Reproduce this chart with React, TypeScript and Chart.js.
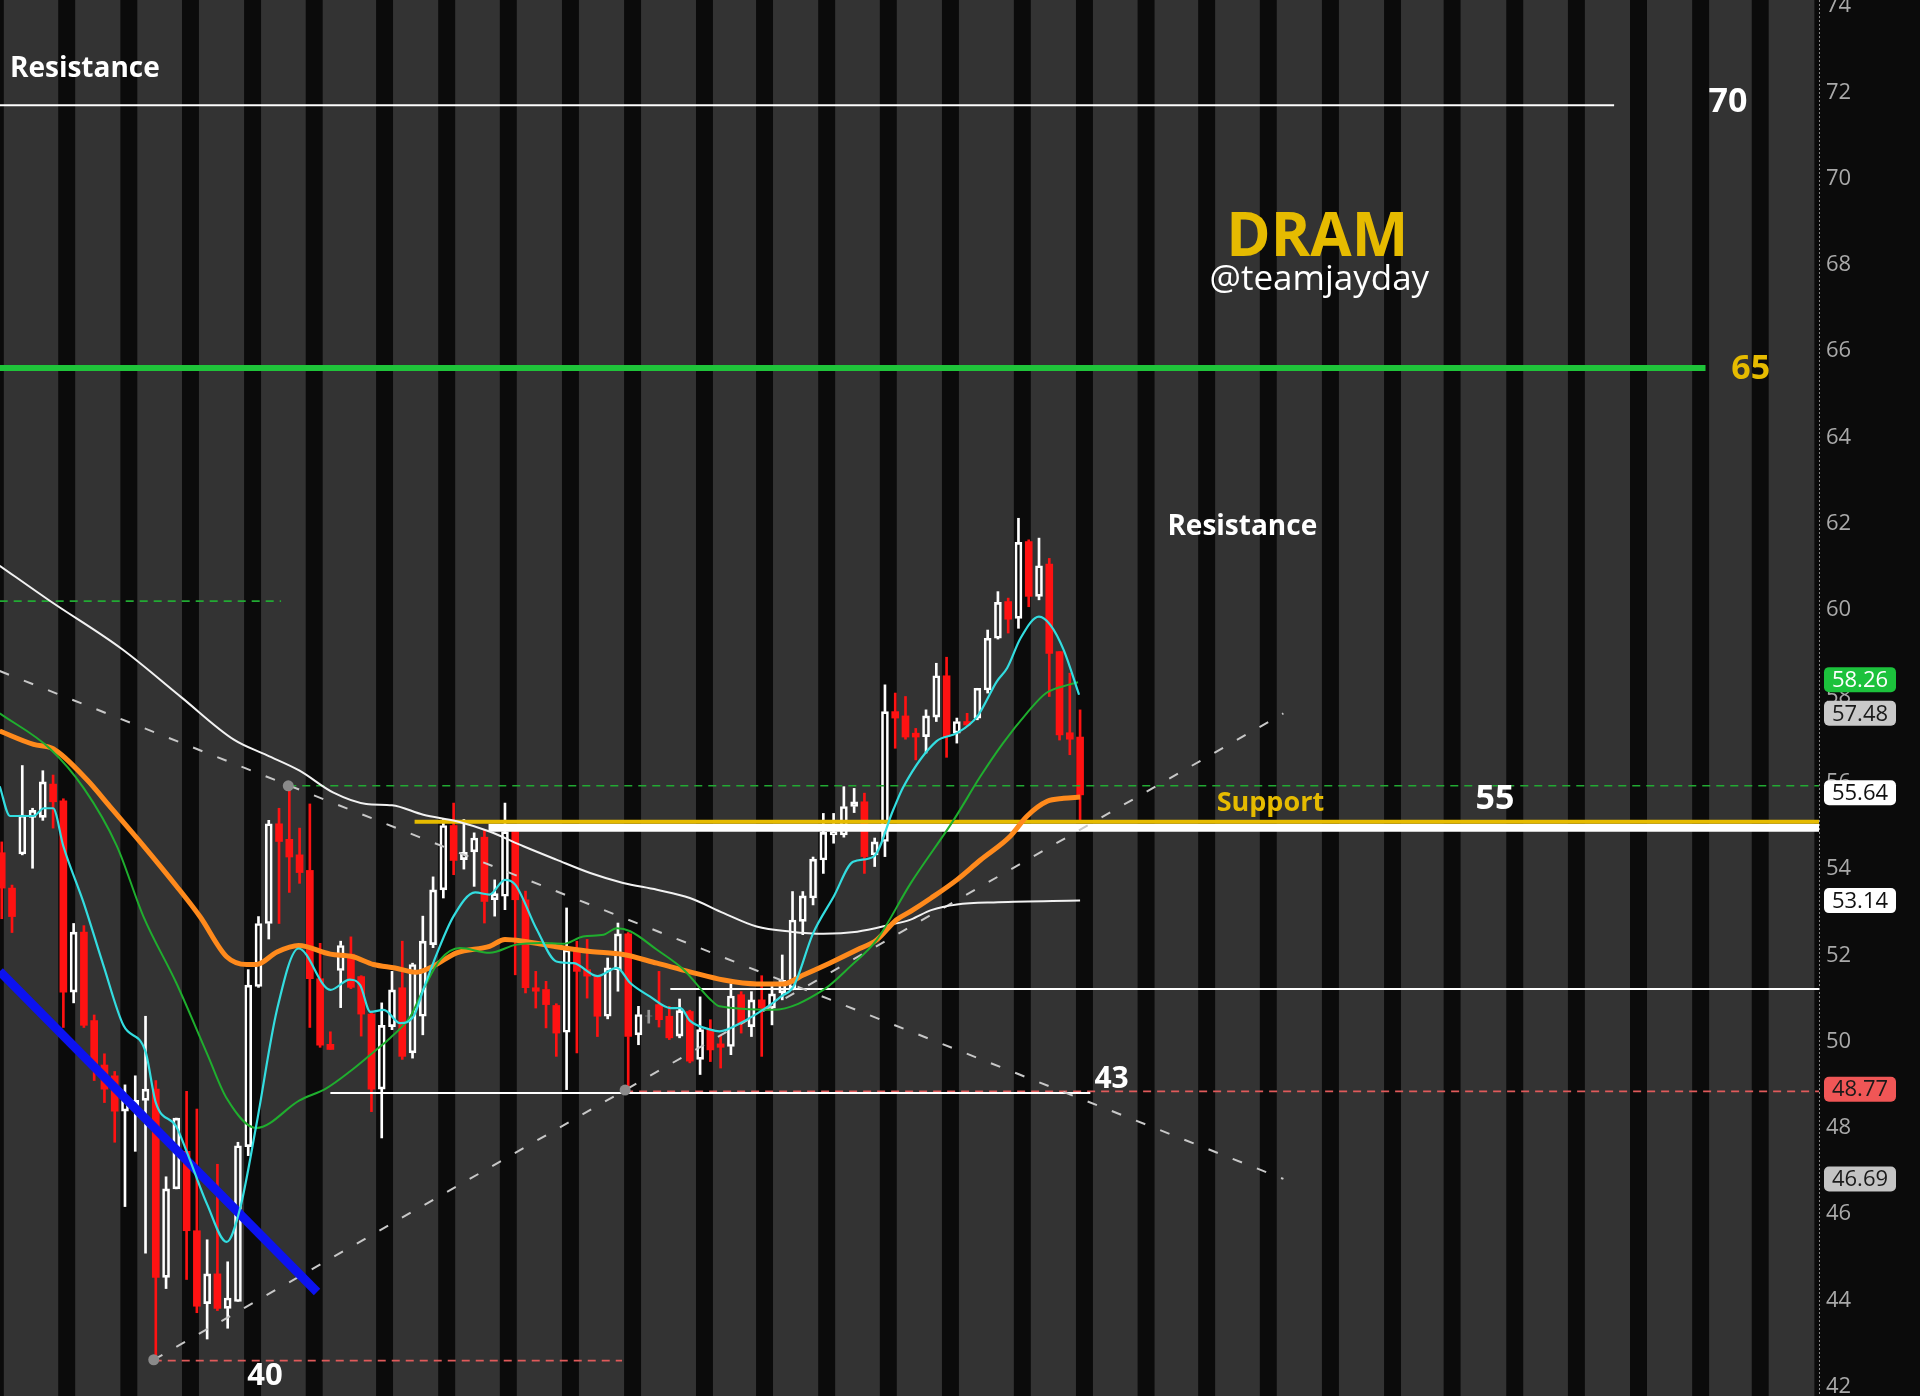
import React, { useEffect, useRef } from "react";
import { Chart, registerables } from "chart.js";

Chart.register(...registerables);

const W = 1920;
const H = 1396;

// ---- candle data (index = bar number) ----
const opens = [
  54.25, 53.43, 54.22, 55.07, 55.07, 55.84, 55.45, 51.02, 52.41, 50.36,
  49.33, 49.08, 48.26, 48.38, 48.51, 48.77, 44.41, 46.46, 47.33, 45.49,
  43.8, 44.49, 43.69, 43.85, 47.44, 51.15, 52.61, 54.92, 54.56, 54.2,
  53.84, 51.33, 49.81, 51.52, 51.9, 51.38, 50.51, 48.77, 50.22, 51.12,
  49.61, 50.46, 52.12, 53.39, 54.88, 54.09, 54.27, 54.61, 53.16, 53.24,
  54.74, 53.16, 51.12, 51.08, 50.71, 50.09, 52.02, 51.54, 51.39, 50.46,
  51.54, 52.37, 50.03, 50.46, 50.73, 50.46, 50.0, 50.57, 49.46, 50.15,
  49.82, 49.76, 50.96, 50.22, 50.84, 50.65, 51.0, 51.11, 52.66, 53.2,
  54.08, 54.66, 54.66, 55.32, 55.43, 54.2, 54.51, 57.52, 57.42, 57.02,
  56.94, 57.39, 58.35, 57.02, 57.29, 57.37, 58.02, 59.22, 60.07, 59.68,
  61.46, 60.19, 60.94, 58.91, 57.03, 56.93,
];
const highs = [
  54.5, 53.5, 56.27, 55.28, 56.15, 56.05, 55.5, 52.61, 52.56, 50.49,
  49.59, 49.18, 48.87, 49.08, 50.46, 48.97, 46.74, 48.1, 48.72, 48.31,
  45.28, 47.03, 44.77, 47.54, 51.54, 52.77, 55.0, 55.28, 55.79, 54.82,
  55.38, 52.15, 50.1, 52.2, 52.3, 51.4, 50.56, 50.77, 51.5, 52.2,
  51.69, 52.78, 53.69, 55.02, 55.4, 55.02, 54.71, 54.78, 53.62, 55.4,
  54.85, 53.36, 51.5, 51.27, 50.75, 52.97, 52.2, 52.24, 51.4, 51.81,
  52.62, 52.4, 50.69, 50.6, 51.5, 50.69, 50.86, 50.6, 50.91, 50.38,
  50.03, 51.21, 51.03, 51.03, 51.4, 51.15, 51.88, 53.35, 53.35, 54.15,
  55.16, 55.16, 55.78, 55.74, 55.63, 54.59, 58.14, 57.95, 57.87, 57.13,
  57.56, 58.64, 58.78, 57.37, 57.48, 58.06, 59.41, 60.3, 60.15, 62.0,
  61.5, 61.54, 61.07, 58.91, 58.41, 57.56,
];
const lows = [
  52.72, 52.4, 54.2, 53.89, 55.0, 54.82, 50.2, 50.77, 50.2, 48.97,
  48.46, 47.54, 46.05, 47.33, 44.97, 42.5, 44.15, 46.46, 44.36, 43.59,
  42.98, 43.64, 43.23, 43.85, 47.23, 51.13, 52.25, 52.61, 53.33, 53.54,
  50.2, 49.74, 49.69, 50.66, 51.1, 50.0, 48.25, 47.64, 50.15, 49.46,
  49.49, 50.03, 52.05, 53.2, 53.74, 53.87, 53.47, 52.62, 52.78, 52.93,
  51.42, 51.0, 50.65, 50.19, 49.53, 48.76, 49.61, 50.88, 49.99, 50.4,
  51.04, 48.77, 49.8, 50.3, 50.21, 49.92, 49.96, 49.38, 49.11, 49.41,
  49.26, 49.57, 50.07, 49.99, 49.53, 50.26, 50.84, 51.07, 52.35, 53.04,
  53.77, 54.47, 54.61, 55.18, 53.77, 53.93, 54.16, 56.67, 56.88, 56.4,
  56.56, 57.29, 56.46, 56.79, 57.19, 57.33, 57.95, 59.2, 59.34, 59.45,
  59.95, 60.11, 57.87, 56.86, 56.52, 55.0,
];
const closes = [
  53.43, 52.77, 55.12, 55.23, 55.89, 55.43, 51.02, 52.41, 50.25, 49.28,
  48.77, 48.26, 48.51, 48.51, 48.77, 44.41, 46.46, 48.1, 45.49, 43.74,
  44.49, 43.69, 43.93, 47.46, 51.18, 52.61, 54.92, 54.51, 54.15, 53.79,
  51.33, 49.79, 49.69, 52.1, 51.13, 50.51, 48.77, 50.25, 51.07, 49.53,
  51.66, 52.2, 53.39, 54.88, 54.07, 54.26, 54.59, 53.12, 53.3, 54.74,
  53.16, 51.12, 51.04, 50.73, 50.07, 52.0, 51.5, 51.39, 50.46, 51.58,
  52.37, 49.99, 50.5, 50.47, 50.38, 49.96, 50.59, 49.42, 50.15, 49.68,
  49.74, 50.93, 50.3, 50.84, 50.65, 50.98, 51.29, 52.69, 53.25, 54.1,
  54.72, 54.74, 55.32, 55.43, 54.16, 54.5, 57.52, 57.37, 56.93, 56.93,
  57.42, 58.35, 56.94, 57.29, 57.21, 58.06, 59.22, 60.05, 59.66, 61.44,
  60.19, 60.9, 58.87, 56.98, 56.88, 55.59,
];

// ---- moving averages: [bar index, price] ----
const fastAvg: [number, number][] = [
  [-0.2, 55.79], [0.8, 55.1], [3.1, 55.1], [4.1, 55.28], [5, 55.28], [6, 54.4],
  [8, 53.07], [9.9, 51.64], [11.85, 50.25], [14, 49.64], [15, 48.46], [17, 47.9],
  [18, 47.33], [20, 46.1], [21.9, 45.23], [23.2, 46.0], [24.8, 47.95], [26.8, 50.61],
  [28.9, 52.03], [32, 51.07], [33.9, 51.31], [34.9, 51.18], [35.9, 50.56], [37.2, 50.61],
  [38.8, 50.3], [40.1, 50.46], [41.05, 51.08], [42.4, 51.93], [44, 52.78], [46.1, 53.33],
  [47.5, 53.28], [49, 53.62], [50, 53.51], [52.1, 52.47], [54, 51.73], [55.7, 51.69],
  [58, 51.39], [59.9, 51.58], [61.2, 51.23], [63.1, 50.92], [65.1, 50.65], [66.1, 50.65],
  [67, 50.36], [69, 50.15], [69.9, 50.11], [71.9, 50.3], [74.8, 50.72], [75.9, 50.92],
  [77.1, 51.15], [79, 52.38], [81, 53.23], [82.9, 54.04], [84.9, 54.16], [86.8, 55.24],
  [87.8, 55.78], [91, 56.83], [93, 57.02], [95, 57.41], [96.9, 58.22], [97.9, 58.53],
  [99.2, 59.22], [101, 59.72], [102.1, 59.53], [103.4, 58.95], [104.9, 57.91],
];
const midAvg: [number, number][] = [
  [-0.2, 57.48], [4.7, 56.66], [8, 55.74], [11.2, 54.41], [13.8, 52.77], [17, 51.23],
  [20, 49.59], [21.9, 48.56], [24.8, 47.87], [29, 48.51], [31.6, 48.79], [33.9, 49.18],
  [36.5, 49.69], [37.8, 49.95], [39.8, 50.46], [41.05, 51.08], [42.7, 51.77], [44.6, 52.04],
  [47.5, 51.93], [50.1, 52.12], [52.4, 52.16], [54.7, 52.14], [56.6, 52.31], [58.6, 52.35],
  [59.9, 52.5], [61.2, 52.43], [63.8, 52.0], [66.4, 51.54], [69, 50.85], [69.9, 50.69],
  [75.1, 50.61], [80, 51.07], [82.6, 51.61], [85.2, 52.23], [88.5, 53.54], [92.7, 55.01],
  [95.3, 56.02], [97.5, 56.79], [99.8, 57.48], [101.7, 57.95], [104, 58.15], [104.8, 58.2],
];
const slowAvg: [number, number][] = [
  [-0.2, 57.07], [3.1, 56.76], [5, 56.66], [8.3, 55.94], [10.5, 55.33], [13.8, 54.41],
  [17, 53.48], [19.3, 52.77], [21.9, 51.84], [23.85, 51.66], [24.8, 51.66], [26.8, 51.95],
  [28.9, 52.1], [32, 51.9], [34.2, 51.84], [36.2, 51.66], [38.3, 51.58], [40.4, 51.48],
  [42, 51.62], [44.3, 51.93], [47.5, 52.08], [49, 52.24], [50.8, 52.2], [54, 52.07],
  [57.3, 51.96], [60.5, 51.89], [63.8, 51.69], [67, 51.49], [70.3, 51.3], [73.5, 51.21],
  [76.1, 51.21], [78.1, 51.42], [80.6, 51.69], [83.3, 52.0], [85.2, 52.23], [87.1, 52.69],
  [88.5, 52.89], [90.5, 53.2], [93, 53.62], [95.3, 54.08], [98.2, 54.63], [99.8, 55.09],
  [101.8, 55.44], [103.4, 55.51], [105, 55.54],
];
const longAvg: [number, number][] = [
  [-0.2, 60.9], [4.6, 60.1], [11.7, 58.97], [17.5, 57.85], [22.6, 56.87], [25.8, 56.51],
  [29, 56.15], [32.3, 55.64], [35.5, 55.38], [38, 55.35], [41.05, 55.13], [44.3, 54.98],
  [47.5, 54.74], [50.8, 54.4], [54, 54.09], [57.3, 53.78], [60.5, 53.55], [63.8, 53.39],
  [67, 53.2], [70.3, 52.85], [73.5, 52.54], [76.8, 52.42], [80, 52.37], [83.3, 52.42],
  [86.5, 52.58], [88.5, 52.7], [90.5, 52.92], [93, 53.05], [97, 53.1], [105, 53.14],
];

// ---- drawn study lines: [bar index, price] ----
const X_MIN = -0.17;
const X_MAX = 176.95;
const Y_MIN = 41.66;
const Y_MAX = 74.01;

const blueTrend: [number, number][] = [[-0.2, 51.5], [30.7, 44.07]];
const fallingDash: [number, number][] = [[-0.2, 58.46], [124.8, 46.69]];
const risingDash: [number, number][] = [[14.8, 42.5], [124.8, 57.48]];
const topResistance: [number, number][] = [[-0.2, 71.57], [157, 71.57]];
const greenLevel: [number, number][] = [[-0.2, 65.48], [165.9, 65.48]];
const greenDashShort: [number, number][] = [[-0.2, 60.08], [27.2, 60.08]];
const greenDashLong: [number, number][] = [[27.9, 55.8], [X_MAX, 55.8]];
const yellowSupport: [number, number][] = [[40.2, 54.97], [X_MAX, 54.97]];
const whiteSupport: [number, number][] = [[47.4, 54.83], [X_MAX, 54.83]];
const whiteMid: [number, number][] = [[65.1, 51.09], [X_MAX, 51.09]];
const whiteLow: [number, number][] = [[32, 48.68], [106, 48.68]];
const redDashUpper: [number, number][] = [[60.7, 48.72], [X_MAX, 48.72]];
const redDashLower: [number, number][] = [[14.8, 42.48], [60.4, 42.48]];
const pivotDots: [number, number][] = [[14.8, 42.5], [60.7, 48.75], [27.9, 55.8]];

// ---- background session stripes (start bar index) ----
const stripeStarts = [
  -1.45, 5.5, 11.55, 17.55, 23.6, 29.6, 36.45, 42.5, 48.5, 54.55, 60.6, 67.6,
  73.45, 79.5, 85.5, 91.55, 98.55, 104.6, 110.6, 116.5, 122.5, 128.55, 134.6,
  140.4, 146.5, 152.5, 158.55, 164.6, 170.4, 176.5,
];
const STRIPE_W = 1.65;

// ---- axis ticks and price tags ----
const yTicks = [42, 44, 46, 48, 50, 52, 54, 56, 58, 60, 62, 64, 66, 68, 70, 72, 74];
const tagValues = [58.26, 57.48, 55.64, 53.14, 48.77, 46.69];
const tagFill = ["#1cc23c", "#c9c9c9", "#ffffff", "#ffffff", "#f05656", "#c4c4c4"];
const tagInk = ["#ffffff", "#1a1a1a", "#111111", "#111111", "#1a1a1a", "#1a1a1a"];

// ---- chart notes: [text, bar index, price] ----
const noteTexts = ["Resistance", "70", "DRAM", "@teamjayday", "65", "Resistance", "Support", "55", "43", "40"];
const noteX = [0.8, 166.2, 128.1, 128.3, 170.3, 113.5, 118.3, 143.5, 106.4, 23.9];
const noteY = [72.23, 71.41, 68.08, 67.29, 65.23, 61.61, 55.22, 55.27, 48.8, 41.92];
const noteStyle = [
  { size: 28, weight: "bold", color: "#ffffff", align: "left" },
  { size: 34, weight: "bold", color: "#ffffff", align: "left" },
  { size: 60, weight: "bold", color: "#e6bb00", align: "center" },
  { size: 35, weight: "normal", color: "#ffffff", align: "center" },
  { size: 34, weight: "bold", color: "#e6bb00", align: "center" },
  { size: 28, weight: "bold", color: "#ffffff", align: "left" },
  { size: 27, weight: "bold", color: "#e6bb00", align: "left" },
  { size: 34, weight: "bold", color: "#ffffff", align: "left" },
  { size: 30, weight: "bold", color: "#ffffff", align: "left" },
  { size: 31, weight: "bold", color: "#ffffff", align: "left" },
];

const FONT = '"Open Sans", "Noto Sans", sans-serif';

const RED = "#ff1212";
const kind = (i: number) => {
  const d = closes[i] - opens[i];
  if (Math.abs(d) <= 0.03) return "doji";
  return d > 0 ? "up" : "down";
};
const wickColor = (i: number) => (kind(i) === "down" ? RED : kind(i) === "doji" ? "#9a9a9a" : "#ffffff");

const bgPlugin = {
  id: "bgStripes",
  beforeDraw(chart: any) {
    const { ctx, chartArea: a } = chart;
    const x = chart.scales.x;
    ctx.save();
    ctx.fillStyle = "#0b0b0b";
    ctx.fillRect(0, 0, chart.width, chart.height);
    ctx.fillStyle = "#333333";
    ctx.fillRect(a.left, a.top, a.right - a.left, a.bottom - a.top);
    ctx.beginPath();
    ctx.rect(a.left, a.top, a.right - a.left, a.bottom - a.top);
    ctx.clip();
    ctx.fillStyle = "#0b0b0b";
    for (const s of stripeStarts) {
      const x0 = x.getPixelForValue(s);
      const x1 = x.getPixelForValue(s + STRIPE_W);
      ctx.fillRect(x0, a.top, x1 - x0, a.bottom - a.top);
    }
    ctx.restore();
  },
};

const overlayPlugin = {
  id: "overlay",
  afterDraw(chart: any) {
    const { ctx, chartArea: a } = chart;
    const xs = chart.scales.x;
    const ys = chart.scales.y;
    ctx.save();
    // dotted axis separator
    ctx.strokeStyle = "#8a8a8a";
    ctx.lineWidth = 1;
    ctx.setLineDash([2, 2]);
    ctx.beginPath();
    ctx.moveTo(a.right + 0.5, 0);
    ctx.lineTo(a.right + 0.5, chart.height);
    ctx.stroke();
    ctx.setLineDash([]);

    // notes
    ctx.textBaseline = "alphabetic";
    noteTexts.forEach((t, i) => {
      const st = noteStyle[i];
      ctx.font = `${st.weight} ${st.size}px ${FONT}`;
      ctx.fillStyle = st.color;
      ctx.textAlign = st.align as CanvasTextAlign;
      ctx.fillText(t, xs.getPixelForValue(noteX[i]), ys.getPixelForValue(noteY[i]));
    });

    // price tags
    ctx.font = `22px ${FONT}`;
    ctx.textAlign = "center";
    ctx.textBaseline = "middle";
    tagValues.forEach((v, i) => {
      const y = ys.getPixelForValue(v);
      const left = a.right + 5;
      const w = 72;
      const h = 25;
      ctx.fillStyle = tagFill[i];
      ctx.beginPath();
      (ctx as any).roundRect(left, y - h / 2, w, h, 5);
      ctx.fill();
      ctx.fillStyle = tagInk[i];
      ctx.fillText(v.toFixed(2), left + w / 2, y + 1);
    });
    ctx.restore();
  },
};

const pts = (p: [number, number][]) => p.map(([x, y]) => ({ x, y }));

const lineDs = (p: [number, number][], color: string, width: number, extra: any = {}) => ({
  type: "line",
  data: pts(p),
  borderColor: color,
  borderWidth: width,
  pointRadius: 0,
  fill: false,
  tension: 0,
  order: 3,
  ...extra,
});

export default function App() {
  const ref = useRef<HTMLCanvasElement | null>(null);

  useEffect(() => {
    if (!ref.current) return;
    Chart.defaults.font.family = FONT;
    const idx = opens.map((_, i) => i);

    const wickUp = {
      type: "bar",
      data: idx.map((i) => ({ x: i, y: [Math.max(opens[i], closes[i]), highs[i]] })),
      backgroundColor: idx.map(wickColor),
      borderWidth: 0,
      barThickness: 2,
      grouped: false,
      order: 10,
    };
    const wickDown = {
      type: "bar",
      data: idx.map((i) => ({ x: i, y: [lows[i], Math.min(opens[i], closes[i])] })),
      backgroundColor: idx.map(wickColor),
      borderWidth: 0,
      barThickness: 2,
      grouped: false,
      order: 10,
    };
    const bodies = {
      type: "bar",
      data: idx.map((i) => ({ x: i, y: [opens[i], closes[i]] })),
      backgroundColor: idx.map((i) => (kind(i) === "down" ? RED : "rgba(0,0,0,0)")),
      borderColor: idx.map((i) => wickColor(i)),
      borderWidth: idx.map((i) => (kind(i) === "down" ? 0 : 2)),
      borderSkipped: false,
      barThickness: 7,
      grouped: false,
      order: 9,
    };

    const mono = { cubicInterpolationMode: "monotone", order: 1 };
    const dash = [10, 16];
    const fine = [8, 6];

    const chart = new Chart(ref.current, {
      type: "bar",
      data: {
        datasets: [
          lineDs(fastAvg, "#33dde0", 2.2, mono),
          lineDs(midAvg, "#1fae2e", 2, mono),
          lineDs(slowAvg, "#ff8a1c", 5, mono),
          lineDs(longAvg, "#f2f2f2", 2, mono),
          lineDs(blueTrend, "#0c12f0", 9, { order: 2 }),
          lineDs(fallingDash, "#c8c8c8", 2, { borderDash: dash }),
          lineDs(risingDash, "#c8c8c8", 2, { borderDash: dash }),
          lineDs(topResistance, "#ffffff", 2),
          lineDs(greenLevel, "#1fc43a", 6),
          lineDs(greenDashShort, "#22aa33", 1.6, { borderDash: fine }),
          lineDs(greenDashLong, "#22aa33", 1.6, { borderDash: fine }),
          lineDs(yellowSupport, "#e6bb00", 4),
          lineDs(whiteSupport, "#ffffff", 8),
          lineDs(whiteMid, "#ffffff", 2),
          lineDs(whiteLow, "#ffffff", 2),
          lineDs(redDashUpper, "#e05a5a", 1.6, { borderDash: fine }),
          lineDs(redDashLower, "#e05a5a", 1.6, { borderDash: fine }),
          {
            type: "line",
            data: pts(pivotDots),
            showLine: false,
            pointRadius: 5.5,
            pointBackgroundColor: "#8a8a8a",
            pointBorderWidth: 0,
            order: 0,
          },
          bodies,
          wickUp,
          wickDown,
        ] as any,
      },
      options: {
        animation: false,
        responsive: false,
        devicePixelRatio: 1,
        events: [],
        layout: { padding: 0, autoPadding: false },
        plugins: { legend: { display: false }, tooltip: { enabled: false } },
        scales: {
          x: {
            type: "linear",
            min: X_MIN,
            max: X_MAX,
            offset: false,
            display: false,
          },
          y: {
            type: "linear",
            position: "right",
            min: Y_MIN,
            max: Y_MAX,
            afterBuildTicks: (s: any) => {
              s.ticks = yTicks.map((v) => ({ value: v }));
            },
            afterFit: (s: any) => {
              s.width = W - 1819;
              s.paddingTop = 0;
              s.paddingBottom = 0;
              s.paddingLeft = 0;
              s.paddingRight = 0;
            },
            grid: { display: false, drawTicks: false },
            border: { display: false },
            ticks: {
              autoSkip: false,
              padding: 7,
              labelOffset: 5.5,
              color: "#a9a9a9",
              font: { size: 22, family: FONT },
              callback: (v: any) => String(v),
            },
          },
        },
      } as any,
      plugins: [bgPlugin, overlayPlugin],
    });
    return () => chart.destroy();
  }, []);

  return (
    <div style={{ position: "fixed", left: 0, top: 0, width: W, height: H, background: "#0b0b0b" }}>
      <canvas ref={ref} width={W} height={H} style={{ width: W, height: H, display: "block" }} />
    </div>
  );
}
